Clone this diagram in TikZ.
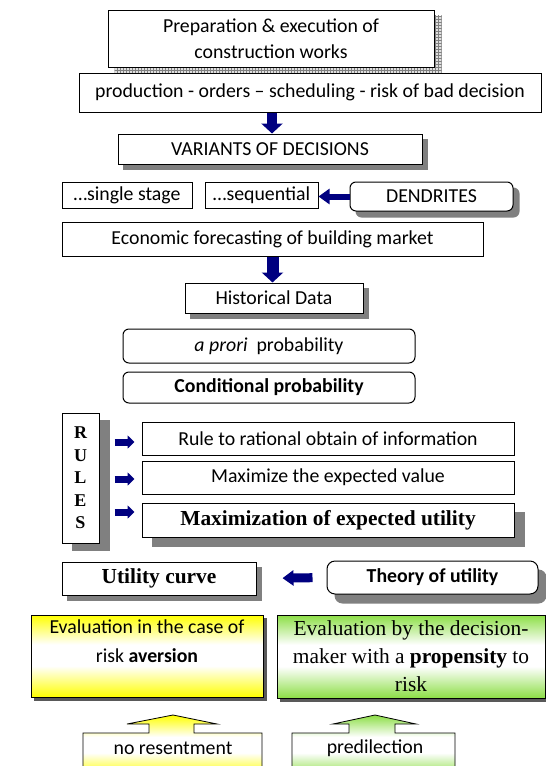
\documentclass[tikz,border=0pt]{standalone}
\usepackage{fontspec}
\setmainfont{Carlito}
\newfontfamily\timesf{Liberation Serif}
\usepackage{tikz}
\usetikzlibrary{calc,backgrounds,patterns,arrows.meta,positioning}
\definecolor{navyblue}{RGB}{0,0,128}
\definecolor{lightgreen}{RGB}{140,222,70}
\pgfdeclareverticalshading{yellowband}{100bp}{color(0bp)=(yellow); color(25bp)=(yellow); color(44bp)=(white); color(57bp)=(white); color(75bp)=(yellow); color(100bp)=(yellow)}
\pgfdeclareverticalshading{greenband}{100bp}{color(0bp)=(lightgreen); color(25bp)=(lightgreen); color(44bp)=(white); color(57bp)=(white); color(75bp)=(lightgreen); color(100bp)=(lightgreen)}
\tikzstyle{rectplain} = [rectangle, draw=black, line width=1pt, fill=white, align=center, inner sep=0pt]
\tikzstyle{rectround} = [rectplain, rounded corners=6pt]
\tikzstyle{rectyellow} = [rectangle, draw=black, line width=1pt, shade, shading=yellowband, align=center, inner sep=0pt]
\tikzstyle{rectgreen} = [rectyellow, shading=greenband]
\tikzstyle{shadowgray} = [fill=gray]
\tikzstyle{arrowdown} = [navyblue, line width=10pt, -{Triangle[width=21pt,length=10pt]}]
\tikzstyle{arrowside} = [navyblue, line width=6pt, -{Triangle[width=15pt,length=11pt]}]
\tikzstyle{arrowrule} = [navyblue, line width=7pt, -{Triangle[width=13pt,length=7pt]}, shorten <=15pt, shorten >=7pt]
\tikzstyle{calloutyellow} = [draw=black, line width=0.8pt, shade, shading=yellowband]
\tikzstyle{calloutgreen} = [calloutyellow, shading=greenband]

\begin{document}
\begin{tikzpicture}[x=1pt, y=-1pt, font=\fontsize{19.8}{24}\selectfont]
	\useasboundingbox (0,0) rectangle (546,766);
	% Boxes
	\node (prep) [rectplain, minimum width=326, minimum height=57, font=\fontsize{19.8}{26}\selectfont] at (271,38.5) {Preparation \& execution of\\construction works};
	\node (prod) [rectplain, minimum width=462, minimum height=39] at (310,92.5) {production - orders -- scheduling - risk of bad decision};
	\node (variants) [rectplain, minimum width=304, minimum height=30] at (270,149) {VARIANTS OF DECISIONS};
	\node (single) [rectplain, minimum width=130, minimum height=26] at (127,195) {\dots single stage};
	\node (seq) [rectplain, minimum width=113, minimum height=26] at (261.5,195) {\dots sequential};
	\node (dend) [rectround, minimum width=163, minimum height=29] at (431.5,196.5) {DENDRITES};
	\node (econ) [rectplain, minimum width=421, minimum height=34] at (272.5,239) {Economic forecasting of building market};
	\node (hist) [rectplain, minimum width=178, minimum height=30] at (274,298) {Historical Data};
	\node (aprori) [rectround, minimum width=292, minimum height=34] at (269,346) {\textit{a prori}\ \ probability};
	\node (cond) [rectround, minimum width=292, minimum height=31] at (269,387.5) {\textbf{Conditional probability}};
	\node (rules) [rectplain, minimum width=37, minimum height=130, font=\timesf\bfseries\fontsize{18}{22.5}\selectfont] at (80.5,478) {R\\U\\L\\E\\S};
	\node (rule1) [rectplain, minimum width=372, minimum height=33] at (328,438.5) {Rule to rational obtain of information};
	\node (rule2) [rectplain, minimum width=372, minimum height=33] at (328,477.5) {Maximize the expected value};
	\node (rule3) [rectplain, minimum width=372, minimum height=34, font=\timesf\bfseries\fontsize{21.4}{25}\selectfont] at (328,520) {Maximization of expected utility};
	\node (utility) [rectplain, minimum width=194, minimum height=33, font=\timesf\bfseries\fontsize{21.4}{25}\selectfont] at (159,578.5) {Utility curve};
	\node (theory) [rectround, rounded corners=8pt, minimum width=211, minimum height=33] at (432.5,577.5) {\textbf{Theory of utility}};
	\node (aversion) [rectyellow, minimum width=232, minimum height=82, font=\fontsize{19.8}{29}\selectfont] at (147,656) {Evaluation in the case of\\risk \textbf{aversion}\\\mbox{}};
	\node (propens) [rectgreen, minimum width=268, minimum height=83, font=\timesf\fontsize{21.4}{28}\selectfont] at (411,656.5) {Evaluation by the decision-\\maker with a \textbf{propensity} to\\risk};
	% Shadows
	\begin{scope}[on background layer]
		\fill[gray!25] ([shift={(7,6)}]prep.south west) rectangle ([shift={(7,6)}]prep.north east);
		\fill[pattern=grid, pattern color=gray] ([shift={(7,6)}]prep.south west) rectangle ([shift={(7,6)}]prep.north east);
		\foreach \n/\dx/\dy/\r in {variants/5/5/0, dend/6/6/6, hist/5/5/0, rules/10/7/0, rule3/10/9/0, utility/5/5/0, theory/8/9/8}
			\fill[shadowgray, rounded corners=\r] ([shift={(\dx,\dy)}]\n.south west) rectangle ([shift={(\dx,\dy)}]\n.north east);
		\foreach \n in {aversion, propens}
			\fill[black!65] ([shift={(3,3)}]\n.south west) rectangle ([shift={(3,3)}]\n.north east);
	\end{scope}
	% Up arrows
	\path[calloutyellow] (83,776) -- (83,733) -- (149,733) -- (149,724) -- (127,724) -- (173,715) -- (217,724) -- (194,724) -- (194,733) -- (262,733) -- (262,776) -- cycle;
	\node (nores) at (173,748) {no resentment};
	\path[calloutgreen] (292,776) -- (292,733) -- (349,733) -- (349,724) -- (333,724) -- (375,715) -- (416,724) -- (395,724) -- (395,733) -- (455,733) -- (455,776) -- cycle;
	\node (predil) at (375,748) {predilection};
	% Arrows
	\draw[arrowdown] (variants.north |- prod.south) ++(2,0) -- ++(0,21);
	\draw[arrowdown, line width=12pt] (econ.south) -- (econ.south |- hist.north);
	\draw[arrowside] (dend.west) -- (seq.east |- dend.west);
	\draw[arrowrule] ($(rules.east |- rule1.west)+(0,3.5)$) -- ($(rule1.west)+(0,3.5)$);
	\draw[arrowrule] ($(rules.east |- rule2.west)+(0,1.5)$) -- ($(rule2.west)+(0,1.5)$);
	\draw[arrowrule] ($(rules.east |- rule3.west)+(0,-8)$) -- ($(rule3.west)+(0,-8)$);
	\draw[arrowside, line width=9pt, shorten <=14pt, shorten >=26pt] (theory.west) -- (utility.east);
\end{tikzpicture}
\end{document}
